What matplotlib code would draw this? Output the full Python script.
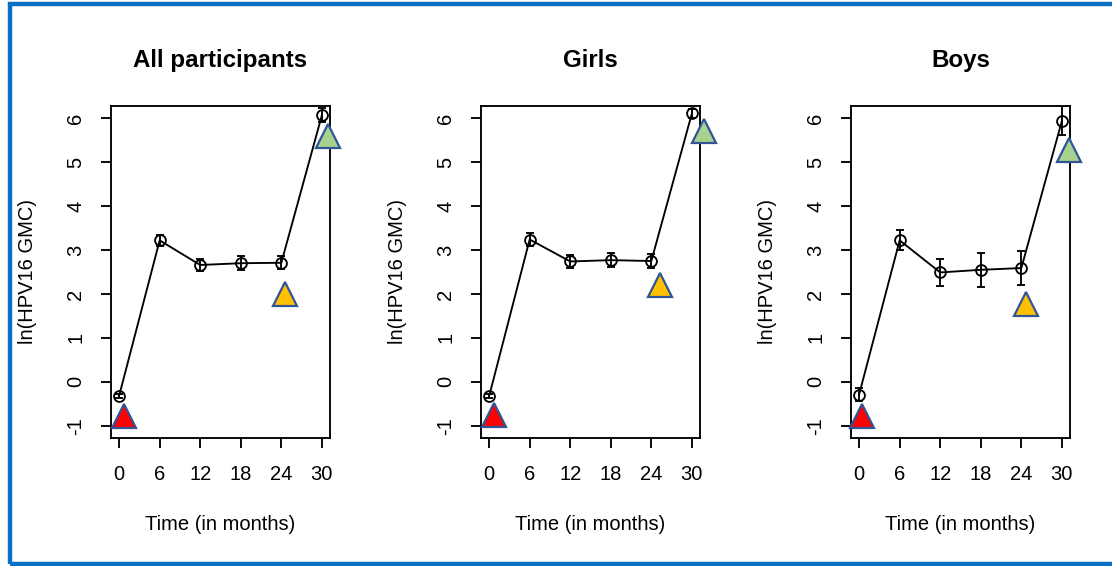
import matplotlib
matplotlib.use("Agg")
import matplotlib.pyplot as plt
from matplotlib.patches import Rectangle

plt.rcParams['font.family'] = ['Liberation Sans', 'DejaVu Sans']

titles = ["All participants", "Girls", "Boys"]
months = [0, 6, 12, 18, 24, 30]
xticks = [0, 6, 12, 18, 24, 30]
yticks = [-1, 0, 1, 2, 3, 4, 5, 6]

gmc_all = [-0.32, 3.22, 2.66, 2.70, 2.71, 6.07]
err_all = [0.05, 0.12, 0.13, 0.16, 0.15, 0.16]
gmc_girls = [-0.33, 3.24, 2.74, 2.77, 2.75, 6.11]
err_girls = [0.05, 0.14, 0.15, 0.16, 0.15, 0.11]
gmc_boys = [-0.29, 3.22, 2.49, 2.55, 2.59, 5.94]
err_boys = [0.15, 0.23, 0.30, 0.39, 0.39, 0.33]

# overlay triangles: (x, y) per panel for red, orange, green
tri_x_all = [0.7, 24.5, 30.9]
tri_y_all = [-0.77, 2.00, 5.59]
tri_x_girls = [0.7, 25.3, 31.8]
tri_y_girls = [-0.75, 2.21, 5.71]
tri_x_boys = [0.4, 24.7, 31.0]
tri_y_boys = [-0.79, 1.77, 5.28]
tri_colors = ["#FF0000", "#FFC000", "#A9D18E"]

series = [
    (gmc_all, err_all, tri_x_all, tri_y_all),
    (gmc_girls, err_girls, tri_x_girls, tri_y_girls),
    (gmc_boys, err_boys, tri_x_boys, tri_y_boys),
]

W, H = 1112, 566
fig = plt.figure(figsize=(W / 100, H / 100), dpi=100)

# blue frame
fig.patches.append(Rectangle((9.5 / W, 2 / H), (W + 20) / W, (H - 6) / H,
                             transform=fig.transFigure, fill=False,
                             edgecolor="#0A70C4", linewidth=3.2))

fs = 14.5
lw = 1.35
for i, (vals, errs, tx, ty) in enumerate(series):
    left = 111 + 370 * i
    ax = fig.add_axes([left / W, (H - 438) / H, 219 / W, 332 / H])
    ax.set_xlim(-1.2, 31.2)
    ax.set_ylim(-1.28, 6.28)
    ax.errorbar(months, vals, yerr=errs, color="black", lw=lw,
                elinewidth=lw, capsize=2.8, capthick=lw,
                marker="o", mfc="none", mec="black", ms=7.8, mew=lw, zorder=3)
    for x, y, c in zip(tx, ty, tri_colors):
        ax.plot([x], [y], marker="^", ms=17, mfc=c, mec="#2F5597", mew=1.6,
                linestyle="none", clip_on=False, zorder=5)
    ax.set_xticks(xticks)
    ax.set_xticklabels([str(v) for v in xticks], fontsize=fs)
    ax.set_yticks(yticks)
    ax.set_yticklabels([str(v) for v in yticks], fontsize=fs, rotation=90,
                       va="center")
    ax.tick_params(axis="both", direction="out", length=7.5, width=lw,
                   color="black")
    ax.tick_params(axis="x", pad=12)
    ax.tick_params(axis="y", pad=11)
    for sp in ax.spines.values():
        sp.set_linewidth(lw)
    ax.text(0.5, 1.138, titles[i], transform=ax.transAxes, ha="center",
            va="center", fontsize=17.4, fontweight="bold")
    ax.text(0.5, -0.262, "Time (in months)", transform=ax.transAxes,
            ha="center", va="center", fontsize=fs)
    ax.text(-0.379, 0.5, "ln(HPV16 GMC)", transform=ax.transAxes,
            ha="center", va="center", fontsize=fs, rotation=90)

fig.savefig("out.png", dpi=100)
